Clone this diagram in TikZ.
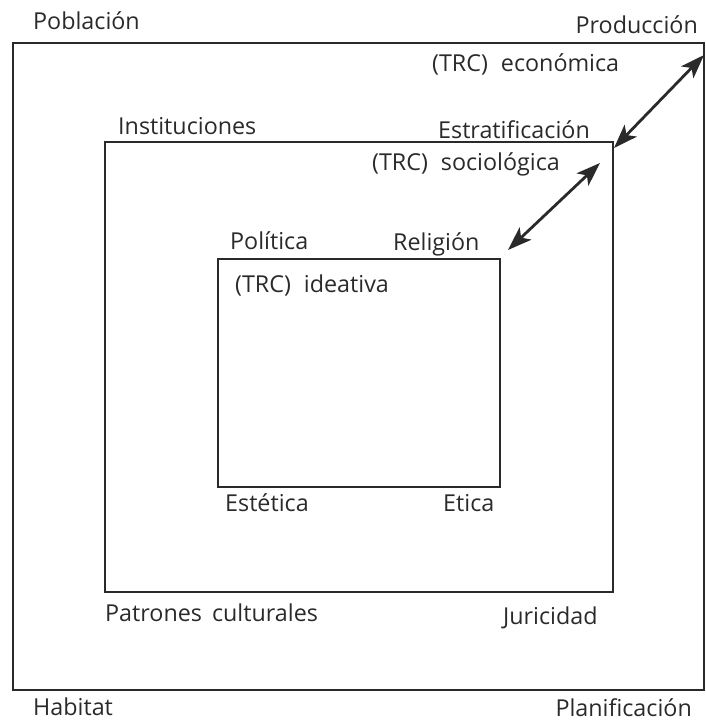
\documentclass[tikz,border=0pt]{standalone}
\usepackage{fontspec}
\setmainfont{Open Sans}
\usetikzlibrary{arrows.meta}
\definecolor{ink}{HTML}{2A2A2A}
\newcommand{\gapTRC}{\hspace{13pt}}
\begin{document}
\begin{tikzpicture}[x=1pt,y=-1pt,
  box/.style={draw=ink, line width=2.8pt, rectangle, inner sep=0pt, outer sep=0pt},
  lbl/.style={font=\fontsize{23.3}{26}\selectfont, text=ink, inner sep=0pt},
  dbl/.style={draw=ink, line width=2.8pt, {Stealth[length=24pt,width=17pt,inset=6pt]}-{Stealth[length=24pt,width=17pt,inset=6pt]}}]
\useasboundingbox (0,0) rectangle (706,721);
% boxes
\node[box, minimum width=691pt, minimum height=647pt] (outer) at (358.5,366.5) {};
\node[box, minimum width=508pt, minimum height=450pt] (mid) at (359,367) {};
\node[box, minimum width=282pt, minimum height=228pt] (inner) at (359,373) {};
% arrow end points
\coordinate (a1) at (614,148);
\coordinate (a2) at (704,55);
\coordinate (b1) at (508,250);
\coordinate (b2) at (600,163);
\draw[dbl] (a1) -- (a2);
\draw[dbl] (b1) -- (b2);
% labels
\node[lbl, anchor=base west] (pob) at (33,29) {Población};
\node[lbl, anchor=base east] (prod) at (698,33) {Producción};
\node[lbl, anchor=base west] (eco) at (432,71) {(TRC)\gapTRC económica};
\node[lbl, anchor=base west] (inst) at (118,134) {Instituciones};
\node[lbl, anchor=base west] (estr) at (438,138) {Estratificación};
\node[lbl, anchor=base west] (soc) at (372,170) {(TRC)\gapTRC sociológica};
\node[lbl, anchor=base west] (pol) at (230,249) {Política};
\node[lbl, anchor=base west] (rel) at (393,250) {Religión};
\node[lbl, anchor=base west] (idea) at (235,292) {(TRC)\gapTRC ideativa};
\node[lbl, anchor=base west] (este) at (225,511) {Estética};
\node[lbl, anchor=base west] (eti) at (443,511) {Etica};
\node[lbl, anchor=base west] (pat) at (105,621) {Patrones\hspace{4pt} culturales};
\node[lbl, anchor=base west] (jur) at (503,624) {Juricidad};
\node[lbl, anchor=base west] (hab) at (33,715) {Habitat};
\node[lbl, anchor=base east] (plan) at (692,716) {Planificación};
\end{tikzpicture}
\end{document}
